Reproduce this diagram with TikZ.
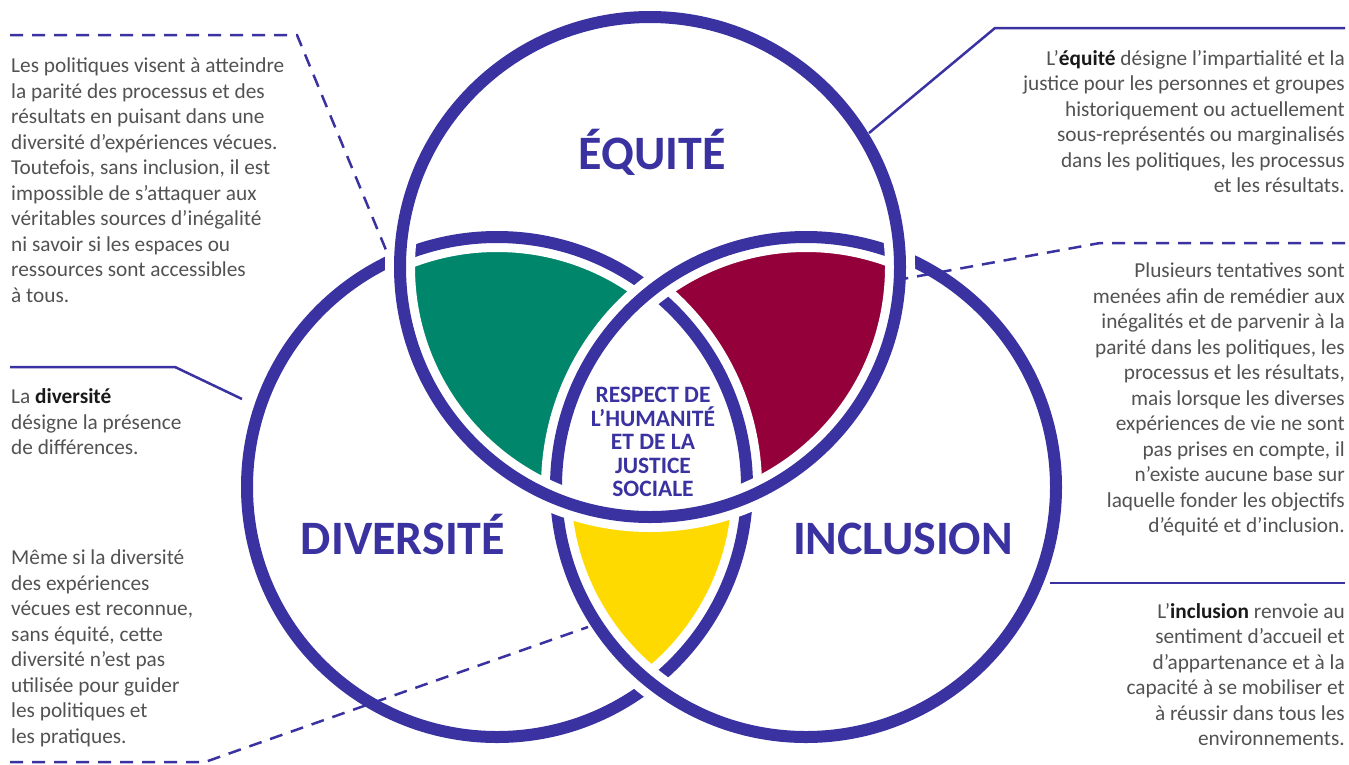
\documentclass[tikz,border=0pt]{standalone}
\usepackage{fontspec}
\setmainfont{Carlito}
\newcommand{\kword}[1]{{\bfseries\color{black!90}#1}}

\begin{document}
\begin{tikzpicture}[x=1pt,y=-1pt,
    ring/.style={draw=vennblue, line width=12pt},
    halo/.style={draw=white, line width=30pt},
    bodytext/.style={inner sep=0pt, text=bodygray, font=\fontsize{21.3}{25.5}\selectfont},
    leftblock/.style={bodytext, anchor=north west, align=left},
    rightblock/.style={bodytext, anchor=north east, align=right},
    heading/.style={inner sep=0pt, anchor=base, text=vennblue, font=\bfseries\fontsize{48}{48}\selectfont},
    leader/.style={draw=vennblue, line width=2.5pt},
    dashedleader/.style={leader, dash pattern=on 13pt off 9pt}]

    % Define colors
    \definecolor{vennblue}{RGB}{58,50,160}
    \definecolor{vgreen}{RGB}{0,134,106}
    \definecolor{vred}{RGB}{147,0,58}
    \definecolor{vyellow}{RGB}{255,218,0}
    \definecolor{bodygray}{RGB}{82,82,82}

    \useasboundingbox (0,0) rectangle (1349,764);

    % circle centres
    \def\rr{250pt}
    \coordinate (cEq) at (650,267);
    \coordinate (cDiv) at (497,487);
    \coordinate (cInc) at (806,487);

    % overlap fills
    \begin{scope}
        \clip (cDiv) circle[radius=\rr];
        \fill[vyellow] (cInc) circle[radius=\rr];
    \end{scope}
    \begin{scope}
        \clip (cEq) circle[radius=\rr];
        \fill[vgreen] (cDiv) circle[radius=\rr];
        \fill[vred] (cInc) circle[radius=\rr];
        \clip (cDiv) circle[radius=\rr];
        \fill[white] (cInc) circle[radius=\rr];
    \end{scope}

    % rings, each one laid over the one before
    \draw[halo] (cDiv) circle[radius=\rr];
    \draw[ring] (cDiv) circle[radius=\rr];
    \draw[halo] (cInc) circle[radius=\rr];
    \draw[ring] (cInc) circle[radius=\rr];
    \draw[halo] (cEq) circle[radius=\rr];
    \draw[ring] (cEq) circle[radius=\rr];

    \node[heading] (lblEq) at (652,169) {ÉQUITÉ};
    \node[heading] (lblDiv) at (403,554) {DIVERSITÉ};
    \node[heading] (lblInc) at (903,554) {INCLUSION};
    \node[inner sep=0pt, anchor=north, align=center, text=vennblue,
          font=\bfseries\fontsize{23.5}{23.5}\selectfont] (core) at (653,387)
        {RESPECT DE\\L’HUMANITÉ\\ET DE LA\\JUSTICE\\SOCIALE};

    % text blocks
    \node[leftblock] (txtEqDiv) at (11,58) {Les politiques visent à atteindre\\la parité des processus et des\\résultats en puisant dans une\\diversité d’expériences vécues.\\Toutefois, sans inclusion, il est\\impossible de s’attaquer aux\\véritables sources d’inégalité\\ni savoir si les espaces ou\\ressources sont accessibles\\à tous.};
    \node[leftblock] (txtDiv) at (11,388.5) {La \kword{diversité}\\désigne la présence\\de différences.};
    \node[leftblock] (txtDivInc) at (11,549.5) {Même si la diversité\\des expériences\\vécues est reconnue,\\sans équité, cette\\diversité n’est pas\\utilisée pour guider\\les politiques et\\les pratiques.};
    \node[rightblock] (txtEq) at (1345,50) {L’\kword{équité} désigne l’impartialité et la\\justice pour les personnes et groupes\\historiquement ou actuellement\\sous-représentés ou marginalisés\\dans les politiques, les processus\\et les résultats.};
    \node[rightblock] (txtEqInc) at (1345,262.5) {Plusieurs tentatives sont\\menées afin de remédier aux\\inégalités et de parvenir à la\\parité dans les politiques, les\\processus et les résultats,\\mais lorsque les diverses\\expériences de vie ne sont\\pas prises en compte, il\\n’existe aucune base sur\\laquelle fonder les objectifs\\d’équité et d’inclusion.};
    \node[rightblock] (txtInc) at (1345,603) {L’\kword{inclusion} renvoie au\\sentiment d’accueil et\\d’appartenance et à la\\capacité à se mobiliser et\\à réussir dans tous les\\environnements.};

    % leader lines
    \coordinate (tlStart) at (10,35);
    \coordinate (tlBend) at (297,35);
    \coordinate (tlEnd) at (386,250);
    \coordinate (trStart) at (1345,28);
    \coordinate (trBend) at (995,28);
    \coordinate (trEnd) at (869,133);
    \coordinate (mlStart) at (10,367);
    \coordinate (mlBend) at (175,367);
    \coordinate (mlEnd) at (242,399);
    \coordinate (mrStart) at (1345,243);
    \coordinate (mrBend) at (1100,243);
    \coordinate (mrEnd) at (897,280);
    \coordinate (blStart) at (10,762);
    \coordinate (blBend) at (205,762);
    \coordinate (blEnd) at (588,627);
    \coordinate (brStart) at (1345,583);
    \coordinate (brEnd) at (1050,583);

    \draw[dashedleader] (tlStart) -- (tlBend) -- (tlEnd);
    \draw[leader] (trStart) -- (trBend) -- (trEnd);
    \draw[leader] (mlStart) -- (mlBend) -- (mlEnd);
    \draw[dashedleader] (mrStart) -- (mrBend) -- (mrEnd);
    \draw[dashedleader] (blStart) -- (blBend) -- (blEnd);
    \draw[leader] (brStart) -- (brEnd);

\end{tikzpicture}
\end{document}
